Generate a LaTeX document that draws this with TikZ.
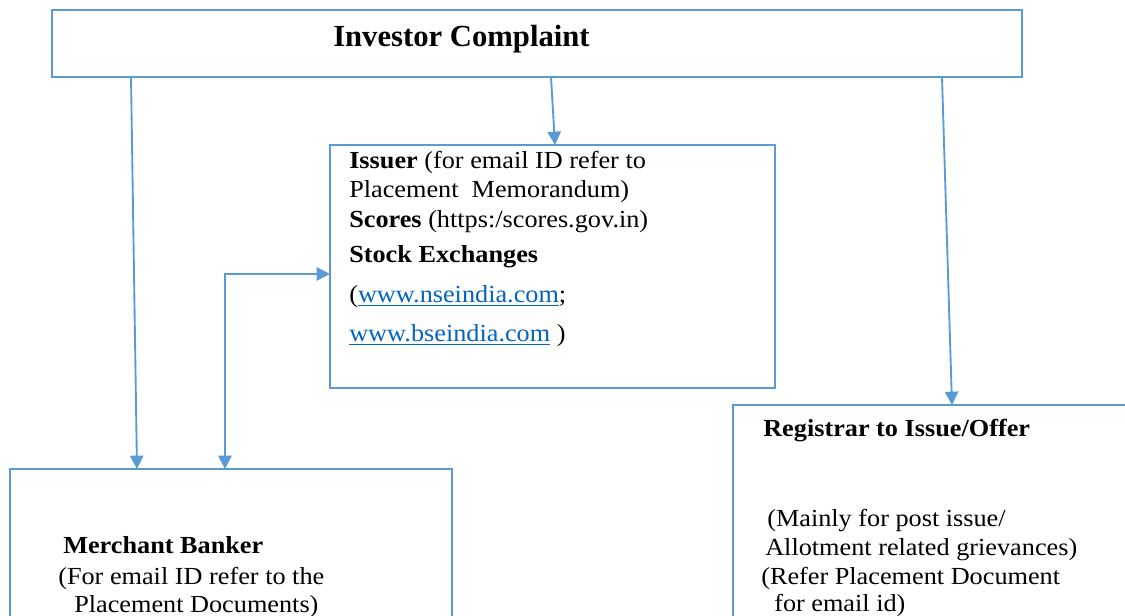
\documentclass[tikz,border=0pt]{standalone}
\usepackage{fontspec}
\setmainfont{Liberation Serif}[FakeStretch=1.07]
\newfontfamily\ttlfont{Liberation Serif}
\usetikzlibrary{arrows.meta,calc,fit}
\definecolor{ln}{HTML}{5B9BD5}
\definecolor{lk}{HTML}{0563C1}
\newcommand{\lnk}[1]{\textcolor{lk}{\underline{#1}}}
\tikzset{
 box/.style={draw=ln, line width=1.6pt, inner sep=0pt, outer sep=0pt, rectangle},
 arr/.style={draw=ln, line width=1.4pt, -{Triangle[length=10pt,width=10pt]}},
 dbl/.style={draw=ln, line width=1.4pt, {Triangle[length=10pt,width=10pt]}-{Triangle[length=10pt,width=10pt]}},
 txt/.style={anchor=base west, inner sep=0pt, font=\fontsize{18.4}{22}\selectfont},
 ttl/.style={anchor=base west, inner sep=0pt, font=\ttlfont\fontsize{23}{27}\selectfont\bfseries},
}
\begin{document}
\begin{tikzpicture}[x=0.75pt,y=-0.75pt]
\clip (0,0) rectangle (1125,616);
\fill[white] (0,0) rectangle (1125,616);
% boxes
\node[box, fit={(52,10) (1022,77)}] (top) {};
\node[box, fit={(330,145) (775,388)}] (iss) {};
\node[box, fit={(10,469) (452,660)}] (merch) {};
\node[box, fit={(733,405) (1160,660)}] (reg) {};
% texts
\node[ttl] (t0) at (333,47) {Investor Complaint};
\node[txt] (i1) at (349,169) {\textbf{Issuer} (for email ID refer to};
\node[txt] (i2) at (349,198) {Placement\ \ Memorandum)};
\node[txt] (i3) at (349,228) {\textbf{Scores} (https:/scores.gov.in)};
\node[txt] (i4) at (349,263) {\textbf{Stock Exchanges}};
\node[txt] (i5) at (349,303) {(\lnk{www.nseindia.com};};
\node[txt] (i6) at (349,342) {\lnk{www.bseindia.com} )};
\node[txt] (m1) at (63,553) {\textbf{Merchant Banker}};
\node[txt] (m2) at (58,584) {(For email ID refer to the};
\node[txt] (m3) at (74,612) {Placement Documents)};
\node[txt] (r1) at (763,437) {\textbf{Registrar to Issue/Offer}};
\node[txt] (r2) at (767,527) {(Mainly for post issue/};
\node[txt] (r3) at (765,555) {Allotment related grievances)};
\node[txt] (r4) at (761,584) {(Refer Placement Document};
\node[txt] (r5) at (774,611) {for email id)};
% connectors
\draw[arr] ($(top.south west)+(79,0)$) -- ($(merch.north west)+(127,0)$);
\draw[arr] ($(top.south west)+(499,0)$) -- ($(iss.north west)+(225,0)$);
\draw[arr] ($(top.south west)+(890,0)$) -- ($(reg.north west)+(219,0)$);
\draw[dbl] ($(merch.north west)+(215,0)$) |- ($(iss.north west)+(0,129)$);
\end{tikzpicture}
\end{document}
